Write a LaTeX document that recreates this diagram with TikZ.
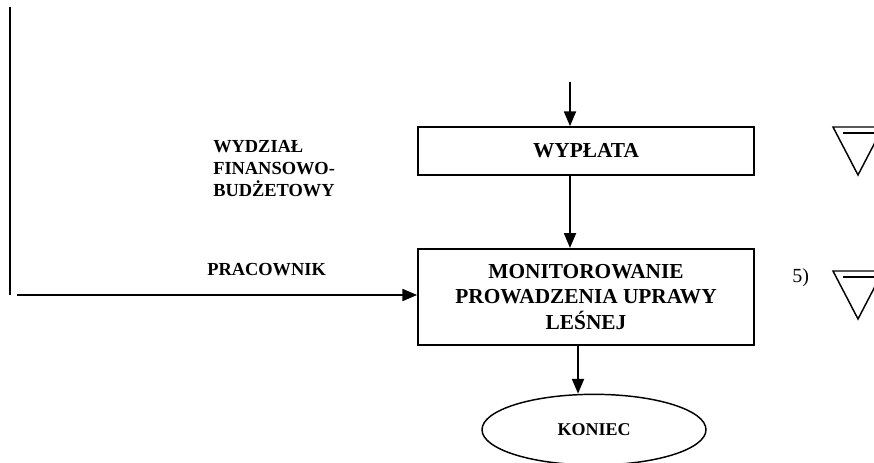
\documentclass[tikz,border=0pt]{standalone}
\usepackage{fontspec}
\setmainfont{Liberation Serif}
\usetikzlibrary{arrows.meta,positioning,shapes.geometric}
\tikzset{
    >={Triangle[length=11pt,width=9pt]},
    box/.style={draw, line width=1.3pt, minimum width=252pt, align=center, inner sep=0pt, font=\fontsize{16}{19}\selectfont\bfseries},
    endnode/.style={ellipse, draw, line width=1.1pt, minimum width=168pt, minimum height=53pt, inner sep=0pt, font=\fontsize{13.5}{16}\selectfont\bfseries},
    lbl/.style={align=left, inner sep=0pt, font=\fontsize{13.8}{16.5}\selectfont\bfseries},
    flow/.style={->, line width=1.3pt},
    lane/.style={line width=1.3pt},
    tri/.style={line width=1.1pt}
}
\begin{document}
\begin{tikzpicture}[x=0.75pt, y=-0.75pt]
\useasboundingbox (0,0) rectangle (874,463);
\clip (0,0) rectangle (874,463);
\node[box, minimum height=36pt] (wyplata) at (586,151) {WYPŁATA};
\node[box, minimum height=72pt, below=54pt of wyplata] (monit) {MONITOROWANIE\\PROWADZENIA UPRAWY\\LEŚNEJ};
\node[endnode, below=36pt of monit, xshift=6pt] (koniec) {KONIEC};
\node[lbl, anchor=north west] (wydzial) at (213,140) {WYDZIAŁ\\FINANSOWO-\\BUDŻETOWY};
\node[lbl, anchor=base west] (pracownik) at (207,276) {PRACOWNIK};
\node[anchor=base west, inner sep=0pt, font=\fontsize{15}{18}\selectfont] (nr) at (792,282) {5)};
\coordinate (top) at (570,82);
\coordinate (laneTop) at (10,7);
\coordinate (laneBot) at (10,295);
\coordinate (in) at (17,295);
\draw[flow] (top) -- (top |- wyplata.north);
\draw[flow] (top |- wyplata.south) -- (top |- monit.north);
\draw[flow] ([xshift=-6pt]monit.south) -- ([xshift=-12pt]koniec.north);
\draw[lane] (laneTop) -- (laneBot);
\draw[flow] (in) -- (in -| monit.west);
\foreach \y in {127,271} {
    \draw[tri] (833,\y) -- (858,\y+48) -- (883,\y) -- cycle;
    \draw[tri] (843,\y+6) -- (890,\y+6);
}
\end{tikzpicture}
\end{document}
